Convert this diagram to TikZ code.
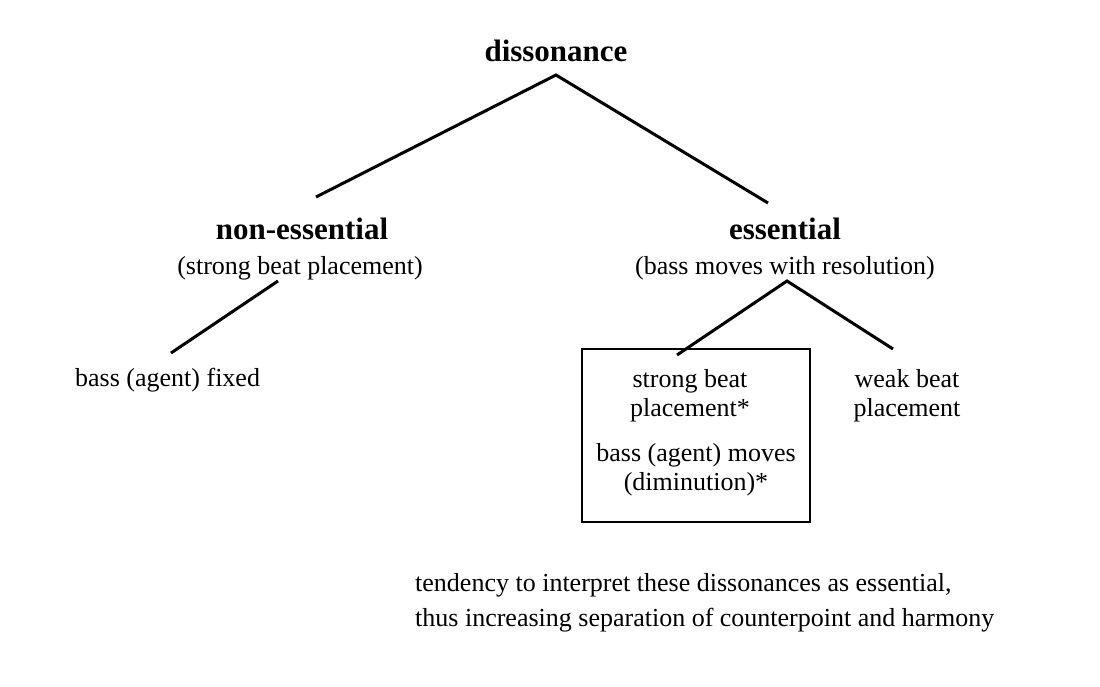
\documentclass[tikz,border=0pt]{standalone}
\usepackage{fontspec}
\setmainfont{Liberation Serif}
\begin{document}
\begin{tikzpicture}[x=1pt,y=-1pt,
  txt/.style={font=\fontsize{26}{29}\selectfont, inner sep=0pt, anchor=base},
  head/.style={font=\fontsize{31}{34}\selectfont\bfseries, inner sep=0pt, anchor=base},
  edge/.style={line width=3pt},
  frame/.style={draw, line width=2pt}]
\useasboundingbox (0,0) rectangle (1100,687);
% texts
\node[head] (dis) at (556,62) {dissonance};
\node[head] (nonh) at (302,240) {non-essential};
\node[txt] (nons) at (300,274) {(strong beat placement)};
\node[head] (esh) at (785,240) {essential};
\node[txt] (ess) at (785,274) {(bass moves with resolution)};
\node[txt,anchor=base west] (fixed) at (75,386) {bass (agent) fixed};
\node[txt] (sb1) at (690,387) {strong beat};
\node[txt] (sb2) at (690,416) {placement*};
\node[txt] (bm1) at (696,461) {bass (agent) moves};
\node[txt] (bm2) at (696,490) {(diminution)*};
\node[txt] (wb1) at (907,387) {weak beat};
\node[txt] (wb2) at (907,416) {placement};
\node[txt,anchor=base west] (t1) at (415,591) {tendency to interpret these dissonances as essential,};
\node[txt,anchor=base west] (t2) at (415,626) {thus increasing separation of counterpoint and harmony};
% box
\node[frame, minimum width=228pt, minimum height=173pt, inner sep=0pt] (box) at (696,435.5) {};
% connector ends
\coordinate (dtop) at (556,75);
\coordinate (nonTop) at (316,197);
\coordinate (esTop) at (768,203);
\coordinate (nonBot) at (278,281);
\coordinate (fixTop) at (171,353);
\coordinate (esBot) at (787,281);
\coordinate (sbTop) at (677,355);
\coordinate (wbTop) at (893,349);
\draw[edge] (nonTop) -- (dtop) -- (esTop);
\draw[edge] (nonBot) -- (fixTop);
\draw[edge] (sbTop) -- (esBot) -- (wbTop);
\end{tikzpicture}
\end{document}
